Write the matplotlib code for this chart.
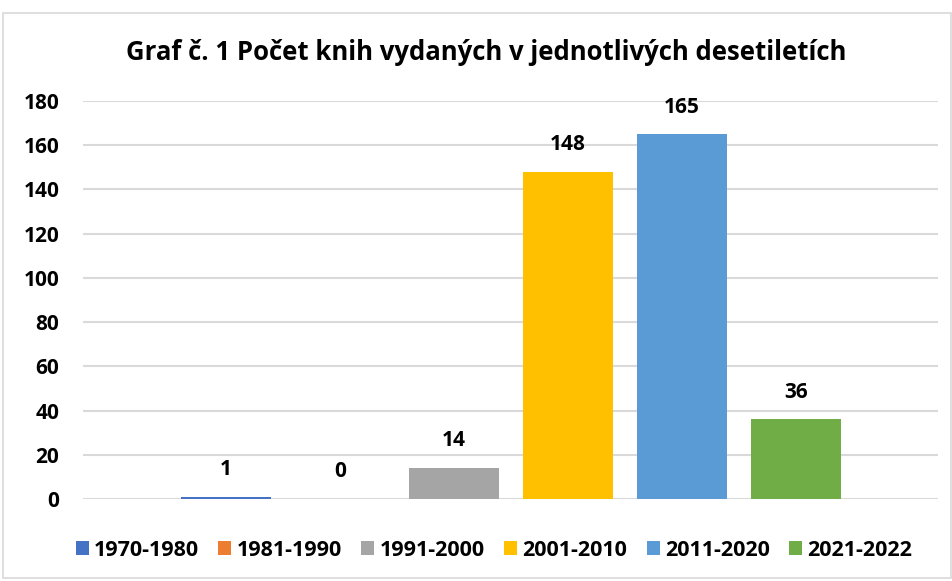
import matplotlib
matplotlib.use("Agg")
import matplotlib.pyplot as plt
from matplotlib.patches import Rectangle, Patch

# data
periods = ['1970-1980', '1981-1990', '1991-2000', '2001-2010', '2011-2020', '2021-2022']
counts = [1, 0, 14, 148, 165, 36]
colors = ['#4472C4', '#ED7D31', '#A5A5A5', '#FFC000', '#5B9BD5', '#70AD47']
yticks = [0, 20, 40, 60, 80, 100, 120, 140, 160, 180]

plt.rcParams['font.family'] = ['Open Sans', 'DejaVu Sans']
plt.rcParams['font.weight'] = 'bold'

fig = plt.figure(figsize=(9.53, 5.81), dpi=100)
# chart frame like Excel
fig.patches.append(Rectangle((3/953, 0.005), 0.995, (581-13)/581 - 0.005, transform=fig.transFigure,
                             fill=False, edgecolor='#d9d9d9', linewidth=1.2))

ax = fig.add_axes([83/953, 82/581, 855/953, 398/581])
x = list(range(len(counts)))
ax.bar(x, counts, width=0.79, color=colors, zorder=3)
for xi, c in zip(x, counts):
    ax.annotate(str(c), (xi, c), xytext=(0, 19.5), textcoords='offset points',
                ha='center', va='center', fontsize=15, fontweight='bold')

ax.set_xlim(-1.254, 6.246)
ax.set_ylim(0, 180)
ax.set_yticks(yticks)
ax.set_xticks([])
ax.grid(axis='y', color='#d9d9d9', linewidth=1.5, zorder=0)
for s in ax.spines.values():
    s.set_visible(False)
ax.tick_params(axis='y', length=0, pad=17, labelsize=15)
for lab in ax.get_yticklabels():
    lab.set_fontweight('bold')

fig.text(486/953, 1 - 52/581, 'Graf č. 1 Počet knih vydaných v jednotlivých desetiletích',
         ha='center', va='center', fontsize=18.5, fontweight='bold')

handles = [Patch(facecolor=c, label=p) for p, c in zip(periods, colors)]
fig.legend(handles=handles, loc='center', bbox_to_anchor=(494/953, 1 - 550/581), ncol=6,
           frameon=False, fontsize=15.5, handlelength=0.6, handleheight=0.6,
           handletextpad=0.25, columnspacing=0.9)

fig.savefig('out.png', dpi=100)
